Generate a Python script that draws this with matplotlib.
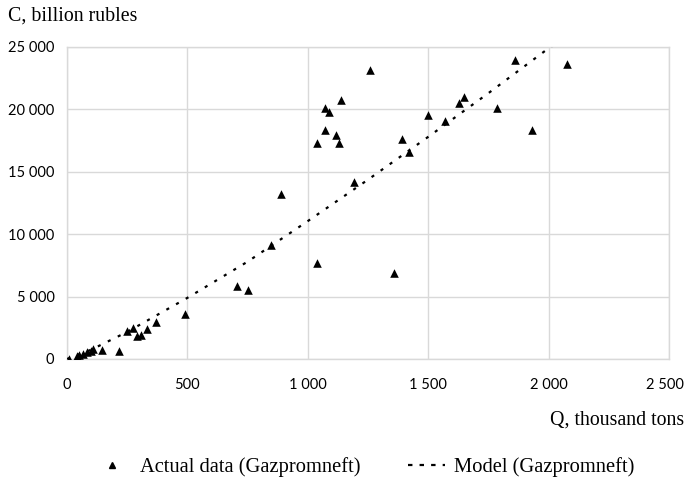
import matplotlib
matplotlib.use("Agg")
import matplotlib.pyplot as plt
import matplotlib.transforms as mtransforms
from matplotlib.ticker import FuncFormatter
from matplotlib.lines import Line2D

# Observed output (Q, thousand tons) and costs (C, billion rubles)
actual_q = [10, 40, 51, 68, 84, 98, 109, 146, 217, 248, 275, 289, 307, 331, 368, 490,
            707, 751, 848, 888, 1040, 1040, 1070, 1088, 1070, 1119, 1130, 1137, 1257,
            1190, 1358, 1390, 1420, 1498, 1568, 1628, 1650, 1787, 1859, 1929, 2077]
actual_c = [30, 240, 300, 400, 585, 640, 825, 720, 640, 2270, 2460, 1840, 1920, 2380, 2990, 3600,
            5850, 5530, 9130, 13220, 7690, 17300, 20140, 19820, 18350, 17920, 17340, 20780, 23150,
            14180, 6920, 17630, 16610, 19580, 19070, 20510, 21020, 20140, 23960, 18350, 23610]

# Model curve values
model_q = [0, 100, 250, 500, 750, 1000, 1250, 1500, 1750, 2000, 2030]
model_c = [0, 740, 2170, 4900, 7800, 11050, 14370, 17800, 21300, 24900, 25300]

x_ticks = [0, 500, 1000, 1500, 2000, 2500]
y_ticks = [0, 5000, 10000, 15000, 20000, 25000]

label_actual = "Actual data (Gazpromneft)"
label_model = "Model (Gazpromneft)"
x_title = "Q, thousand tons"
y_title = "C, billion rubles"

serif = ["Liberation Serif", "DejaVu Serif"]
sans = ["Lato", "DejaVu Sans"]
grid_color = "#d9d9d9"
dash = (0, (1.4, 3.6))

fig = plt.figure(figsize=(6.86, 4.82), dpi=100)
ax = fig.add_axes([67 / 686, 1 - 359 / 482, (669 - 67) / 686, (359 - 47) / 482])

ax.plot(model_q, model_c, color="black", lw=1.6, linestyle=dash,
        dash_capstyle="butt", zorder=3)
ax.scatter(actual_q, actual_c, marker="^", s=38, color="black", zorder=4, linewidths=0)

ax.set_xlim(0, 2500)
ax.set_ylim(0, 25000)
ax.set_xticks(x_ticks)
ax.set_yticks(y_ticks)

fmt = FuncFormatter(lambda v, p: f"{int(v):,}".replace(",", " "))
ax.xaxis.set_major_formatter(fmt)
ax.yaxis.set_major_formatter(fmt)

ax.grid(True, color=grid_color, lw=1.0)
ax.set_axisbelow(True)
for s in ax.spines.values():
    s.set_color(grid_color)
    s.set_linewidth(1.0)
ax.tick_params(length=0, labelsize=10.5, colors="black")
ax.tick_params(axis="x", pad=14)
ax.tick_params(axis="y", pad=9)
for lbl in ax.get_xticklabels() + ax.get_yticklabels():
    lbl.set_family(sans)

# keep the last x label inside the canvas
fig.canvas.draw()
last = ax.get_xticklabels()[-1]
last.set_transform(last.get_transform() +
                   mtransforms.ScaledTranslation(-4 / 100, 0, fig.dpi_scale_trans))

fig.text(8 / 686, 1 - 16 / 482, y_title, family=serif, fontsize=14.3,
         ha="left", va="center")
fig.text(684 / 686, 1 - 420 / 482, x_title, family=serif, fontsize=14.3,
         ha="right", va="center")

handles = [
    Line2D([], [], marker="^", color="black", linestyle="none", markersize=5),
    Line2D([], [], color="black", lw=1.6, linestyle=(0, (2.0, 3.2))),
]
fig.legend(handles, [label_actual, label_model], loc="center",
           bbox_to_anchor=(364 / 686, 1 - 467 / 482), ncol=2, frameon=False,
           prop={"family": serif, "size": 14.8}, handlelength=1.8,
           columnspacing=2.3, handletextpad=0.45, borderpad=0, borderaxespad=0)

fig.savefig("out.png", dpi=100)
